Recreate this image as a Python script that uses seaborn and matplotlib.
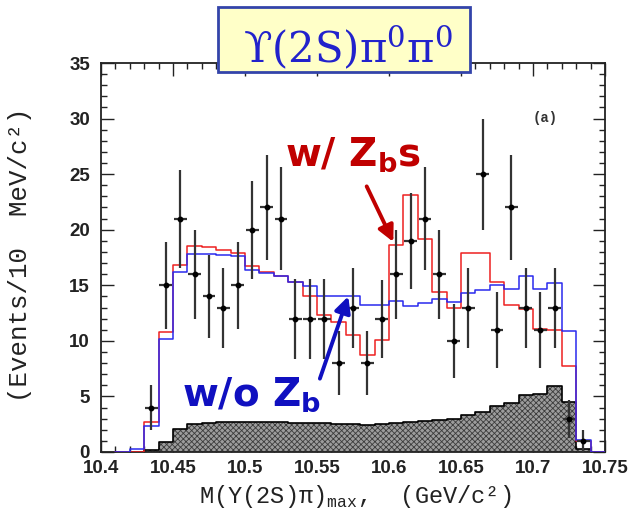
import numpy as np
import matplotlib
matplotlib.use("Agg")
import matplotlib.pyplot as plt
import seaborn as sns
from matplotlib.ticker import MultipleLocator, FuncFormatter
from matplotlib.patches import Rectangle

# ---------------------------------------------------------------------------
# Data: Upsilon(2S) pi0 pi0, M(Upsilon(2S) pi)_max distribution, 10 MeV bins
# ---------------------------------------------------------------------------
bin_edges = [10.41, 10.42, 10.43, 10.44, 10.45, 10.46, 10.47, 10.48, 10.49,
             10.50, 10.51, 10.52, 10.53, 10.54, 10.55, 10.56, 10.57, 10.58,
             10.59, 10.60, 10.61, 10.62, 10.63, 10.64, 10.65, 10.66, 10.67,
             10.68, 10.69, 10.70, 10.71, 10.72, 10.73, 10.74, 10.75]

# fit with Zb states
fit_with_zb = [0.0, 0.0, 2.7, 10.8, 16.8, 18.5, 18.4, 18.2, 17.9, 16.7, 16.2,
               15.8, 15.3, 14.0, 12.3, 11.7, 10.5, 8.7, 10.1, 18.6, 23.1, 19.2,
               14.4, 13.0, 17.9, 17.9, 15.3, 13.2, 12.9, 11.1, 11.0, 7.7, 1.0,
               0.0]

# fit without Zb states
fit_without_zb = [0.0, 0.3, 2.3, 10.2, 16.2, 17.8, 17.8, 17.7, 17.6, 16.4,
                  16.1, 15.8, 15.3, 14.9, 14.0, 14.0, 14.0, 13.2, 13.2, 13.6,
                  13.1, 13.4, 13.8, 13.5, 14.3, 14.6, 15.0, 14.7, 15.8, 14.7,
                  15.2, 10.9, 1.1, 0.0]

# background
background = [0.0, 0.0, 0.2, 0.9, 2.1, 2.5, 2.6, 2.7, 2.7, 2.7, 2.7, 2.7, 2.6,
              2.6, 2.6, 2.5, 2.5, 2.4, 2.5, 2.6, 2.7, 2.8, 2.9, 3.0, 3.3, 3.6,
              4.1, 4.4, 5.1, 5.2, 5.9, 4.5, 0.3, 0.0]

# measured events
mass = [10.435, 10.445, 10.455, 10.465, 10.475, 10.485, 10.495, 10.505,
        10.515, 10.525, 10.535, 10.545, 10.555, 10.565, 10.575, 10.585,
        10.595, 10.605, 10.615, 10.625, 10.635, 10.645, 10.655, 10.665,
        10.675, 10.685, 10.695, 10.705, 10.715, 10.725, 10.735]
events = [4, 15, 21, 16, 14, 13, 15, 20, 22, 21, 12, 12, 12, 8, 13, 8, 12, 16,
          19, 21, 16, 10, 13, 25, 11, 22, 13, 11, 13, 3, 1]
errors = [2.0, 3.9, 4.4, 4.0, 3.7, 3.6, 3.9, 4.4, 4.7, 4.6, 3.6, 3.6, 3.6, 2.9,
          3.6, 2.9, 3.5, 4.0, 4.3, 4.6, 4.0, 3.3, 3.6, 5.0, 3.4, 4.7, 3.6, 3.4,
          3.6, 1.7, 1.0]

x_ticks = [10.4, 10.45, 10.5, 10.55, 10.6, 10.65, 10.7, 10.75]
y_ticks = [0, 5, 10, 15, 20, 25, 30, 35]

bin_centers = [(a + b) / 2 for a, b in zip(bin_edges[:-1], bin_edges[1:])]

# ---------------------------------------------------------------------------
sns.set_style("ticks")
plt.rcParams["font.family"] = ["Liberation Sans", "DejaVu Sans"]
plt.rcParams["mathtext.fontset"] = "custom"
plt.rcParams["mathtext.rm"] = "Liberation Mono"
plt.rcParams["mathtext.bf"] = "DejaVu Sans:bold"
plt.rcParams["hatch.linewidth"] = 0.6

fig = plt.figure(figsize=(6.35, 5.18), dpi=100)
fig.patch.set_facecolor("white")
ax = fig.add_axes([101 / 635, 66 / 518, 504 / 635, 389 / 518])
ax.set_facecolor("white")

# background: hatched grey with black outline
sns.histplot(x=bin_centers, weights=background, bins=bin_edges,
             element="step", fill=True, stat="count", color="#9a9a9a",
             alpha=1.0, linewidth=0, ax=ax, zorder=1)
poly = ax.collections[-1]
poly.set_facecolor("#9c9c9c")
poly.set_edgecolor("#3c3c3c")
poly.set_linewidth(0)
poly.set_hatch("xxxxxx")
sns.histplot(x=bin_centers, weights=background, bins=bin_edges,
             element="step", fill=False, stat="count", color="black",
             linewidth=1.2, ax=ax, zorder=2)

# fit curves
sns.histplot(x=bin_centers, weights=fit_with_zb, bins=bin_edges,
             element="step", fill=False, stat="count", color="#ee2020",
             linewidth=1.1, ax=ax, zorder=3)
sns.histplot(x=bin_centers, weights=fit_without_zb, bins=bin_edges,
             element="step", fill=False, stat="count", color="#2a2aee",
             linewidth=1.1, ax=ax, zorder=3)

# data points
ax.errorbar(mass, events, yerr=errors, xerr=0.0045, fmt="o", ms=3.2,
            color="black", ecolor="#333333", elinewidth=1.6, capsize=0,
            zorder=5)

ax.set_xlim(10.4, 10.75)
ax.set_ylim(0, 35)
ax.set_xlabel("")
ax.set_ylabel("")
ax.set_xticks(x_ticks)
ax.set_yticks(y_ticks)
ax.xaxis.set_major_formatter(FuncFormatter(lambda v, p: f"{v:g}"))
ax.xaxis.set_minor_locator(MultipleLocator(0.01))
ax.yaxis.set_minor_locator(MultipleLocator(1))
ax.tick_params(which="both", direction="in", top=True, right=True,
               width=1.0, color="#222222")
ax.tick_params(which="major", length=9)
ax.tick_params(which="minor", length=4.5)
ax.tick_params(axis="y", which="major", pad=8)
ax.tick_params(axis="x", which="major", pad=6)
for lab in ax.get_xticklabels() + ax.get_yticklabels():
    lab.set_fontsize(13.5)
    lab.set_fontweight("bold")
    lab.set_color("#222222")
for sp in ax.spines.values():
    sp.set_visible(True)
    sp.set_linewidth(1.3)
    sp.set_color("#222222")

# labels in typewriter style
fig.text(20 / 635, 1 - 255 / 518, "(Events/10  MeV/c²)", rotation=90,
         family=["Liberation Mono", "DejaVu Sans Mono"], fontsize=18.5,
         ha="center", va="center", color="#222222")
fig.text(355 / 635, 1 - 497 / 518, r"M(Υ(2S)π)$_{\mathrm{max}}$,  (GeV/c²)",
         family=["Liberation Mono", "DejaVu Sans Mono"], fontsize=17,
         ha="center", va="center", color="#222222")

ax.text(10.7083, 30.06, "(a)", family=["Liberation Mono"], fontsize=10,
        fontweight="bold", ha="center", va="center", color="#333333")

# annotations
ax.text(10.5278, 25.8, r"w/ Z$_{\mathbf{b}}$s", color="#c00000",
        fontsize=28, fontweight="bold", family=["DejaVu Sans"],
        ha="left", va="baseline", zorder=6)
ax.annotate("", xy=(10.603, 18.9), xytext=(10.5845, 23.9),
            arrowprops=dict(arrowstyle="-|>", color="#c00000", lw=2.8,
                            mutation_scale=24, shrinkA=0, shrinkB=0),
            zorder=6)
ax.text(10.456, 4.2, r"w/o Z$_{\mathbf{b}}$", color="#1010c0",
        fontsize=28, fontweight="bold", family=["DejaVu Sans"],
        ha="left", va="baseline", zorder=6)
ax.annotate("", xy=(10.5717, 14.0), xytext=(10.552, 6.6),
            arrowprops=dict(arrowstyle="-|>", color="#1010c0", lw=2.8,
                            mutation_scale=24, shrinkA=0, shrinkB=0),
            zorder=6)

# title box
fig.patches.append(Rectangle((218 / 635, 1 - 72 / 518), 252 / 635, 65 / 518,
                             transform=fig.transFigure, facecolor="#ffffc8",
                             edgecolor="#3344aa", linewidth=2.0, zorder=10))
fig.text(348 / 635, 1 - 63 / 518, r"ϒ(2S)π$^{0}$π$^{0}$",
         family=["DejaVu Serif"], math_fontfamily="dejavuserif",
         fontsize=30, color="#2222cc", ha="center", va="baseline", zorder=11)

fig.savefig("out.png", dpi=100, facecolor="white")
